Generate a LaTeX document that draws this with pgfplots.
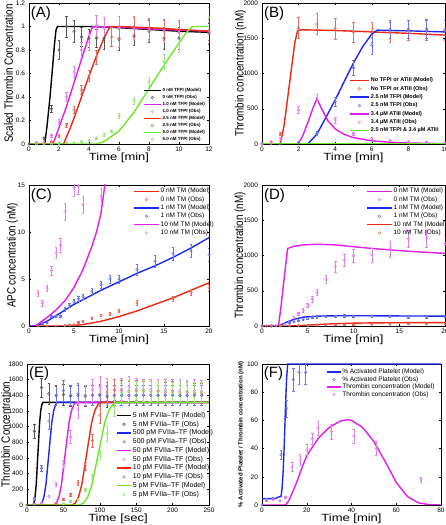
\documentclass[border=0pt]{standalone}
\usepackage{fontspec}
\setmainfont{Liberation Sans}
\usepackage{graphicx}
\usepackage{pgfplots}
\pgfplotsset{compat=1.18}

\definecolor{cBlk}{RGB}{0,0,0}
\definecolor{cMag}{RGB}{225,30,230}
\definecolor{cRed}{RGB}{235,40,20}
\definecolor{cBlu}{RGB}{30,40,240}
\definecolor{cGrn}{RGB}{110,230,40}
\definecolor{oBlk}{RGB}{85,85,85}
\definecolor{oMag}{RGB}{225,130,235}
\definecolor{oRed}{RGB}{225,110,95}
\definecolor{oBlu}{RGB}{105,115,235}
\definecolor{oGrn}{RGB}{150,230,120}

\newcommand{\XL}[1]{\scalebox{1}[0.8]{#1}}
\newcommand{\YL}[1]{\scalebox{0.82}[1]{#1}}

\pgfplotsset{
  panel/.style={scale only axis, clip=true, tick align=inside, major tick length=2.2pt,
    every tick/.style={black, line width=0.4pt},
    axis line style={line width=0.5pt},
    /pgf/number format/assume math mode=true,
    /pgf/number format/1000 sep={},
    scaled ticks=false,
    tick label style={font=\fontsize{6.5}{7}\selectfont},
    xticklabel style={yshift=0.5pt},
    yticklabel style={xshift=-0.5pt},
    xlabel style={font=\fontsize{13}{14}\selectfont, at={(axis description cs:0.5,-0.097)}, anchor=center},
    ylabel style={font=\fontsize{12}{13}\selectfont, anchor=center},
  },
  legimg/.style={legend image code/.code={\draw[mark repeat=2,mark phase=2,##1] plot coordinates {(0pt,0pt) ({0.5*#1},0pt) (#1,0pt)};}},
  model/.style={line width=1.4pt, no markers},
  obs/.style={only marks, mark=o, mark size=1.3pt, mark options={solid, line width=0.5pt},
    error bars/y dir=both, error bars/y explicit,
    error bars/error bar style={line width=0.45pt},
    error bars/error mark options={rotate=90, mark size=1.3pt, line width=0.45pt}},
}

\begin{document}
\begin{tikzpicture}
\path[use as bounding box] (0pt,0pt) rectangle (446pt,525pt);

% ---------------- (A)
\begin{axis}[panel, at={(29pt,381pt)}, anchor=south west, width=180pt, height=141pt,
  xmin=0, xmax=12, ymin=0, ymax=1.2,
  xtick={0,2,4,6,8,10,12}, ytick={0,0.2,0.4,0.6,0.8,1,1.2},
  xlabel={\XL{Time [min]}}, ylabel={\YL{Scaled Thrombin Concentration}},
  ylabel style={at={(axis description cs:-0.113,0.5)}},
  legend style={draw=none, fill=none, inner sep=0pt, at={(axis description cs:0.633,0.404)}, anchor=north west,
    font=\fontsize{4.5}{5}\selectfont\bfseries, nodes={inner sep=1.1pt}, row sep=0pt, cells={anchor=west}},
  legend cell align=left, legimg=17pt,
]
\addplot[model, cBlk] coordinates {(0,0)(1.05,0)(1.2,0.15)(1.4,0.4)(1.55,0.62)(1.7,0.85)(1.8,0.97)(1.9,1.0)(4,1.0)(6,0.99)(8,0.975)(10,0.96)(12,0.95)};
\addlegendentry{0 nM TFPI (Model)}
\addplot[obs, oBlk] coordinates {(0,0) +- (0,0.005) (0.5,0.01) +- (0,0.005) (1,0.05) +- (0,0.01) (1.5,0.30) +- (0,0.03) (2,0.80) +- (0,0.08) (2.5,1.0) +- (0,0.09) (3,0.96) +- (0,0.09) (3.5,0.91) +- (0,0.08) (4,0.90) +- (0,0.08) (4.5,0.90) +- (0,0.08) (5,0.90) +- (0,0.09) (6,0.89) +- (0,0.09) (7,0.92) +- (0,0.08) (8,0.96) +- (0,0.09) (9,0.90) +- (0,0.09) (10,0.90) +- (0,0.09) (12,0.94) +- (0,0.09)};
\addlegendentry{0 nM TFPI (Obs)}
\addplot[model, cMag] coordinates {(0,0)(1.6,0)(2,0.14)(2.5,0.32)(3,0.52)(3.5,0.72)(4,0.92)(4.25,1.0)(6,0.995)(8,0.98)(10,0.97)(12,0.96)};
\addlegendentry{1.0 nM TFPI (Model)}
\addplot[obs, oMag] coordinates {(0.5,0.01) +- (0,0.005) (1,0.01) +- (0,0.005) (1.5,0.07) +- (0,0.01) (2,0.19) +- (0,0.02) (2.5,0.40) +- (0,0.04) (3,0.61) +- (0,0.05) (3.5,0.80) +- (0,0.07) (4,0.87) +- (0,0.07) (4.5,1.01) +- (0,0.09) (5,0.99) +- (0,0.09) (6,1.0) +- (0,0.09) (7,0.98) +- (0,0.09) (8,0.97) +- (0,0.09) (9,0.96) +- (0,0.09) (10,0.95) +- (0,0.09) (12,0.95) +- (0,0.09)};
\addlegendentry{1.0 nM TFPI (Obs)}
\addplot[model, cRed] coordinates {(0,0)(2.3,0)(2.7,0.12)(3,0.22)(3.5,0.40)(4,0.58)(4.5,0.75)(5,0.90)(5.4,1.0)(6,1.0)(8,0.99)(10,0.975)(12,0.96)};
\addlegendentry{2.5 nM TFPI (Model)}
\addplot[obs, oRed] coordinates {(1,0.01) +- (0,0.005) (1.5,0.02) +- (0,0.005) (2,0.07) +- (0,0.01) (2.5,0.16) +- (0,0.02) (3,0.29) +- (0,0.03) (3.5,0.46) +- (0,0.04) (4,0.58) +- (0,0.05) (4.5,0.74) +- (0,0.06) (5.5,0.91) +- (0,0.08) (6,0.90) +- (0,0.08) (7,1.0) +- (0,0.09) (8,0.98) +- (0,0.09) (9,0.97) +- (0,0.09) (10,0.96) +- (0,0.09) (12,0.97) +- (0,0.09)};
\addlegendentry{2.5 nM TFPI (Obs)}
\addplot[model, cGrn] coordinates {(0,0)(4.5,0)(5,0.02)(6,0.11)(7,0.27)(8,0.47)(9,0.67)(10,0.86)(10.5,0.95)(10.9,1.0)(12,1.0)};
\addlegendentry{5.0 nM TFPI (Model)}
\addplot[obs, oGrn] coordinates {(0.5,0) +- (0,0.005) (1,0) +- (0,0.005) (1.5,0) +- (0,0.005) (2,0.005) +- (0,0.005) (2.5,0.01) +- (0,0.005) (3,0.01) +- (0,0.005) (3.5,0.02) +- (0,0.005) (4,0.03) +- (0,0.01) (4.5,0.05) +- (0,0.01) (5,0.08) +- (0,0.01) (5.5,0.11) +- (0,0.01) (6,0.24) +- (0,0.02) (7,0.37) +- (0,0.03) (8,0.53) +- (0,0.04) (9,0.70) +- (0,0.06) (10,0.85) +- (0,0.07) (12,1.08) +- (0,0.08)};
\addlegendentry{5.0 nM TFPI (Obs)}
\node[anchor=north west, inner sep=0pt, font=\fontsize{15}{15}\selectfont] at (rel axis cs:0.01,0.975) {(A)};
\end{axis}

% ---------------- (B)
\begin{axis}[panel, at={(262pt,381pt)}, anchor=south west, width=183pt, height=141pt,
  xmin=0, xmax=10, ymin=0, ymax=2000,
  xtick={0,2,4,6,8,10}, ytick={0,500,1000,1500,2000},
  xlabel={\XL{Time [min]}}, ylabel={\YL{Thrombin concentration (nM)}},
  ylabel style={at={(axis description cs:-0.117,0.5)}},
  legend style={draw=none, fill=none, inner sep=0pt, at={(axis description cs:0.475,0.482)}, anchor=north west,
    font=\fontsize{5.5}{6}\selectfont\bfseries, nodes={inner sep=1.45pt}, row sep=0pt, cells={anchor=west}},
  legend cell align=left, legimg=19pt,
]
\addplot[model, cRed] coordinates {(0,0)(1,0)(1.2,250)(1.4,650)(1.6,1050)(1.8,1450)(1.95,1610)(2.2,1620)(4,1610)(6,1590)(8,1570)(10,1545)};
\addlegendentry{No TFPI or ATIII (Model)}
\addplot[obs, oRed] coordinates {(0,0) +- (0,10) (0.5,30) +- (0,15) (1,140) +- (0,20) (2,1645) +- (0,150) (3,1700) +- (0,150) (4,1640) +- (0,150) (5,1590) +- (0,140) (6,1590) +- (0,140) (7,1590) +- (0,140) (8,1610) +- (0,140) (9,1610) +- (0,140) (10,1610) +- (0,140)};
\addlegendentry{No TFPI or ATIII (Obs)}
\addplot[model, cBlu] coordinates {(0,0)(2.5,0)(3,140)(3.5,380)(4,625)(4.5,890)(5,1150)(5.5,1380)(6,1560)(6.3,1615)(7,1610)(8,1605)(10,1590)};
\addlegendentry{2.5 nM TFPI (Model)}
\addplot[obs, oBlu] coordinates {(0,0) +- (0,5) (1,0) +- (0,5) (2,20) +- (0,10) (3,150) +- (0,30) (4,600) +- (0,60) (5,1080) +- (0,110) (6,1400) +- (0,120) (7,1630) +- (0,130) (8,1630) +- (0,130) (9,1635) +- (0,140) (10,1620) +- (0,140)};
\addlegendentry{2.5 nM TFPI (Obs)}
\addplot[model, cMag] coordinates {(0,0)(1.95,0)(2.2,100)(2.5,300)(2.8,520)(3,640)(3.3,480)(3.6,330)(4,215)(4.5,135)(5,90)(6,45)(7,25)(8,14)(10,5)};
\addlegendentry{3.4 µM ATIII (Model)}
\addplot[obs, oMag] coordinates {(0,0) +- (0,5) (0.5,10) +- (0,5) (1,80) +- (0,20) (2,480) +- (0,50) (3,650) +- (0,50) (4,340) +- (0,40) (5,140) +- (0,20) (6,80) +- (0,10) (7,50) +- (0,10) (8,35) +- (0,10) (9,25) +- (0,10) (10,15) +- (0,10)};
\addlegendentry{3.4 µM ATIII (Obs)}
\addplot[model, cGrn] coordinates {(0,0)(10,0)};
\addlegendentry{2.5 nM TFPI \& 3.4 µM ATIII}
\node[anchor=north west, inner sep=0pt, font=\fontsize{15}{15}\selectfont] at (rel axis cs:0.01,0.975) {(B)};
\end{axis}

% ---------------- (C)
\begin{axis}[panel, at={(29pt,199pt)}, anchor=south west, width=180pt, height=141pt,
  xmin=0, xmax=20, ymin=0, ymax=15,
  xtick={0,5,10,15,20}, ytick={0,5,10,15},
  xlabel={\XL{Time [min]}}, ylabel={\YL{APC concentration (nM)}},
  ylabel style={at={(axis description cs:-0.092,0.5)}},
  legend style={draw=none, fill=none, inner sep=0pt, at={(axis description cs:0.578,0.986)}, anchor=north west,
    font=\fontsize{6.5}{7}\selectfont, nodes={inner sep=1.05pt}, row sep=0pt, cells={anchor=west}},
  legend cell align=left, legimg=25pt,
]
\addplot[model, cRed] coordinates {(0,0)(4,0)(5,0.05)(6,0.15)(8,0.5)(10,1.0)(12,1.6)(14,2.3)(16,3.0)(18,3.8)(20,4.6)};
\addlegendentry{0 nM TM (Model)}
\addplot[obs, oRed] coordinates {(1,0) +- (0,0.03) (2,0) +- (0,0.03) (3,0) +- (0,0.05) (4,0.05) +- (0,0.05) (4.5,0.1) +- (0,0.05) (5,0.15) +- (0,0.05) (5.5,0.4) +- (0,0.1) (6,0.5) +- (0,0.1) (7,0.85) +- (0,0.1) (8,1.1) +- (0,0.1) (9,1.3) +- (0,0.15) (10,1.6) +- (0,0.15) (12,2.45) +- (0,0.25) (16,2.9) +- (0,0.25) (18,3.55) +- (0,0.3) (20,4.1) +- (0,0.35)};
\addlegendentry{0 nM TM (Obs)}
\addplot[model, cBlu] coordinates {(0,0)(0.5,0)(1,0.1)(2,0.5)(3,1.1)(4,1.7)(5,2.3)(6,2.8)(8,3.8)(10,4.7)(12,5.6)(14,6.4)(16,7.3)(18,8.3)(20,9.4)};
\addlegendentry{1 nM TM (Model)}
\addplot[obs, oBlu] coordinates {(1.5,0.3) +- (0,0.1) (2,0.35) +- (0,0.1) (2.5,1.05) +- (0,0.1) (3,1.0) +- (0,0.1) (3.5,1.05) +- (0,0.1) (4,1.8) +- (0,0.2) (4.5,2.2) +- (0,0.2) (5,2.6) +- (0,0.2) (5.5,2.9) +- (0,0.25) (6,3.1) +- (0,0.3) (7,3.7) +- (0,0.3) (8,4.4) +- (0,0.4) (9,5.0) +- (0,0.45) (10,5.0) +- (0,0.45) (12,6.0) +- (0,0.55) (14,6.9) +- (0,0.6) (16,7.7) +- (0,0.7) (18,8.0) +- (0,0.7) (20,7.6) +- (0,0.7)};
\addlegendentry{1 nM TM (Obs)}
\addplot[model, cMag] coordinates {(0,0)(0.7,0)(1,0.2)(2,0.9)(3,1.7)(4,2.7)(5,4.1)(6,6.0)(7,8.5)(7.5,10)(8,12)(8.5,15.5)};
\addlegendentry{10 nM TM (Model)}
\addplot[obs, oMag] coordinates {(1,3.5) +- (0,0.3) (1.5,2.45) +- (0,0.3) (2,4.0) +- (0,0.35) (2.5,5.9) +- (0,0.5) (3,7.8) +- (0,0.6) (3.5,8.6) +- (0,0.7) (4,12.2) +- (0,0.9) (5,14.7) +- (0,0.9) (5.5,14.9) +- (0,0.9) (6,12.9) +- (0,0.9) (8,13.8) +- (0,0.9)};
\addlegendentry{10 nM TM (Obs)}
\node[anchor=north west, inner sep=0pt, font=\fontsize{15}{15}\selectfont] at (rel axis cs:0.01,0.975) {(C)};
\end{axis}

% ---------------- (D)
\begin{axis}[panel, at={(262pt,199pt)}, anchor=south west, width=183pt, height=141pt,
  xmin=0, xmax=20, ymin=0, ymax=2000,
  xtick={0,5,10,15,20}, ytick={0,500,1000,1500,2000},
  xlabel={\XL{Time [min]}}, ylabel={\YL{Thrombin concentration (nM)}},
  ylabel style={at={(axis description cs:-0.12,0.5)}},
  legend style={draw=none, fill=none, inner sep=0pt, at={(axis description cs:0.568,0.986)}, anchor=north west,
    font=\fontsize{6.5}{7}\selectfont, nodes={inner sep=1.05pt}, row sep=0pt, cells={anchor=west}},
  legend cell align=left, legimg=25pt,
]
\addplot[model, cMag] coordinates {(0,0)(1.8,0)(2.1,300)(2.4,650)(2.8,1100)(3.5,1130)(4.5,1150)(6,1160)(8,1150)(10,1125)(12,1100)(14,1080)(16,1060)(18,1045)(20,1030)};
\addlegendentry{0 nM TM (Model)}
\addplot[obs, oMag] coordinates {(0,0) +- (0,5) (0.5,0) +- (0,5) (1,0) +- (0,5) (1.5,5) +- (0,5) (2,10) +- (0,5) (2.5,25) +- (0,10) (3,55) +- (0,15) (3.5,115) +- (0,20) (4,175) +- (0,25) (4.5,220) +- (0,30) (5,295) +- (0,35) (5.5,380) +- (0,40) (6,475) +- (0,45) (7,660) +- (0,60) (8,840) +- (0,80) (9,935) +- (0,90) (10,995) +- (0,90) (12,1010) +- (0,100) (14,1090) +- (0,110) (16,1240) +- (0,120) (18,1240) +- (0,120) (20,1170) +- (0,120)};
\addlegendentry{0 nM TM (Obs)}
\addplot[model, cBlu] coordinates {(0,0)(1.8,0)(2.2,25)(2.8,60)(3.5,95)(4.5,125)(6,140)(8,145)(10,145)(12,145)(14,143)(16,142)(18,141)(20,140)};
\addlegendentry{1 nM TM (Model)}
\addplot[obs, oBlu] coordinates {(0,0) +- (0,5) (1,0) +- (0,5) (2,5) +- (0,5) (3,50) +- (0,10) (3.5,60) +- (0,10) (4,75) +- (0,10) (4.5,90) +- (0,10) (5,110) +- (0,15) (5.5,120) +- (0,15) (6,130) +- (0,15) (7,135) +- (0,15) (8,140) +- (0,15) (9,145) +- (0,15) (10,140) +- (0,15) (12,140) +- (0,15) (14,135) +- (0,15) (16,130) +- (0,15) (18,130) +- (0,15) (20,135) +- (0,15)};
\addlegendentry{1 nM TM (Obs)}
\addplot[model, cRed] coordinates {(0,0)(3,0)(4,5)(5,12)(6,20)(7,27)(8,33)(10,40)(12,44)(14,46)(16,47)(18,47)(20,47)};
\addlegendentry{10 nM TM (Model)}
\addplot[obs, oRed] coordinates {(0,0) +- (0,5) (1,0) +- (0,5) (2,2) +- (0,5) (3,5) +- (0,5) (4,8) +- (0,5) (5,10) +- (0,5) (6,12) +- (0,5) (7,15) +- (0,5) (8,18) +- (0,5) (9,20) +- (0,5) (10,22) +- (0,5) (12,25) +- (0,5) (14,28) +- (0,5) (16,30) +- (0,5) (18,32) +- (0,5) (20,35) +- (0,5)};
\addlegendentry{10 nM TM (Obs)}
\node[anchor=north west, inner sep=0pt, font=\fontsize{15}{15}\selectfont] at (rel axis cs:0.01,0.975) {(D)};
\end{axis}

% ---------------- (E)
\begin{axis}[panel, at={(27pt,20pt)}, anchor=south west, width=182pt, height=141pt,
  xmin=0, xmax=250, ymin=0, ymax=1800,
  xtick={0,50,100,150,200,250}, ytick={0,200,400,600,800,1000,1200,1400,1600,1800},
  xlabel={\XL{Time [sec]}}, ylabel={\YL{Thrombin Concentration}},
  xlabel style={at={(axis description cs:0.5,-0.1)}},
  ylabel style={at={(axis description cs:-0.118,0.5)}},
  legend style={draw=none, fill=none, inner sep=0pt, at={(axis description cs:0.49,0.667)}, anchor=north west,
    font=\fontsize{7}{8}\selectfont, nodes={inner sep=1.1pt}, row sep=0pt, cells={anchor=west}},
  legend cell align=left, legimg=14pt,
]
\addplot[model, cBlk] coordinates {(0,0)(8,0)(9.6,26)(11.1,105)(12.7,262)(14.2,524)(15.8,786)(17.3,1048)(18.9,1205)(20.4,1284)(22,1310)(250,1310)};
\addlegendentry{5 nM FVIIa--TF (Model)}
\addplot[obs, oBlk] coordinates {(0,0) +- (0,10) (10,940) +- (0,90) (20,1500) +- (0,120) (30,1420) +- (0,130) (40,1400) +- (0,130) (50,1410) +- (0,130) (60,1390) +- (0,130) (70,1400) +- (0,130) (80,1390) +- (0,130) (90,1400) +- (0,130) (100,1400) +- (0,130) (110,1380) +- (0,130) (120,1400) +- (0,130) (130,1400) +- (0,130) (140,1400) +- (0,130) (150,1400) +- (0,130) (160,1400) +- (0,130) (170,1400) +- (0,130) (180,1400) +- (0,130) (190,1400) +- (0,130) (200,1400) +- (0,130) (210,1400) +- (0,130) (220,1400) +- (0,130) (230,1400) +- (0,130) (240,1400) +- (0,130)};
\addlegendentry{5 nM FVIIa--TF (Obs)}
\addplot[model, cBlu] coordinates {(0,0)(18,0)(20.7,26)(23.3,105)(26,262)(28.7,524)(31.3,786)(34,1048)(36.7,1205)(39.3,1284)(42,1310)(250,1310)};
\addlegendentry{500 pM FVIIa--TF (Model)}
\addplot[obs, oBlu] coordinates {(10,75) +- (0,20) (20,470) +- (0,40) (30,1070) +- (0,100) (40,1400) +- (0,120) (50,1460) +- (0,130) (60,1400) +- (0,130) (70,1420) +- (0,130) (80,1400) +- (0,130) (90,1400) +- (0,130) (100,1410) +- (0,130) (110,1400) +- (0,130) (120,1400) +- (0,130) (130,1400) +- (0,130) (140,1400) +- (0,130) (150,1400) +- (0,130) (160,1400) +- (0,130) (170,1400) +- (0,130) (180,1400) +- (0,130) (190,1400) +- (0,130) (200,1400) +- (0,130) (210,1400) +- (0,130) (220,1400) +- (0,130) (230,1400) +- (0,130) (240,1400) +- (0,130)};
\addlegendentry{500 pM FVIIa--TF (Obs)}
\addplot[model, cMag] coordinates {(0,0)(37,0)(40.4,26)(43.9,105)(47.3,262)(50.8,524)(54.2,786)(57.7,1048)(61.1,1205)(64.6,1284)(68,1310)(250,1310)};
\addlegendentry{50 pM FVIIa--TF (Model)}
\addplot[obs, oMag] coordinates {(10,10) +- (0,10) (20,30) +- (0,10) (30,110) +- (0,15) (40,260) +- (0,25) (50,520) +- (0,50) (60,870) +- (0,80) (70,1220) +- (0,110) (80,1400) +- (0,130) (90,1470) +- (0,140) (100,1500) +- (0,140) (110,1480) +- (0,140) (120,1470) +- (0,140) (130,1480) +- (0,140) (140,1500) +- (0,140) (150,1480) +- (0,140) (160,1470) +- (0,140) (170,1470) +- (0,140) (180,1460) +- (0,140) (190,1470) +- (0,140) (200,1460) +- (0,140) (210,1460) +- (0,140) (220,1450) +- (0,140) (230,1460) +- (0,140) (240,1450) +- (0,140)};
\addlegendentry{50 pM FVIIa--TF (Obs)}
\addplot[model, cRed] coordinates {(0,0)(62,0)(66.4,26)(70.9,105)(75.3,262)(79.8,524)(84.2,786)(88.7,1048)(93.1,1205)(97.6,1284)(102,1310)(250,1310)};
\addlegendentry{10 pM FVIIa--TF (Model)}
\addplot[obs, oRed] coordinates {(40,20) +- (0,10) (50,75) +- (0,10) (60,130) +- (0,15) (70,280) +- (0,30) (80,500) +- (0,50) (90,820) +- (0,80) (100,1150) +- (0,110) (110,1440) +- (0,130) (120,1470) +- (0,130) (130,1460) +- (0,130) (140,1450) +- (0,130) (150,1460) +- (0,130) (160,1450) +- (0,130) (170,1450) +- (0,130) (180,1450) +- (0,130) (190,1440) +- (0,130) (200,1450) +- (0,130) (210,1440) +- (0,130) (220,1440) +- (0,130) (230,1430) +- (0,130) (240,1430) +- (0,130)};
\addlegendentry{10 pM FVIIa--TF (Obs)}
\addplot[model, cGrn] coordinates {(0,0)(72,0)(77.8,26)(83.6,105)(89.3,262)(95.1,524)(100.9,786)(106.7,1048)(112.4,1205)(118.2,1284)(124,1310)(250,1310)};
\addlegendentry{5 pM FVIIa--TF (Model)}
\addplot[obs, oGrn] coordinates {(50,15) +- (0,10) (60,45) +- (0,10) (70,70) +- (0,10) (80,190) +- (0,20) (90,360) +- (0,35) (100,640) +- (0,60) (110,910) +- (0,90) (120,1250) +- (0,120) (130,1430) +- (0,130) (140,1460) +- (0,130) (150,1450) +- (0,130) (160,1460) +- (0,130) (170,1450) +- (0,130) (180,1450) +- (0,130) (190,1450) +- (0,130) (200,1440) +- (0,130) (210,1440) +- (0,130) (220,1450) +- (0,130) (230,1440) +- (0,130) (240,1440) +- (0,130)};
\addlegendentry{5 pM FVIIa--TF (Obs)}
\node[anchor=north west, inner sep=0pt, font=\fontsize{15}{15}\selectfont] at (rel axis cs:0.01,0.985) {(E)};
\end{axis}

% ---------------- (F)
\begin{axis}[panel, at={(262pt,20pt)}, anchor=south west, width=179pt, height=141pt,
  xmin=0, xmax=80, ymin=0, ymax=100,
  xtick={0,20,40,60,80}, ytick={0,20,40,60,80,100},
  xlabel={\XL{Time [min]}}, ylabel={\% Activated Platelet / Thrombin concentration (nM)},
  xlabel style={at={(axis description cs:0.5,-0.1)}},
  ylabel style={at={(axis description cs:-0.117,0.5)}, font=\fontsize{6}{7}\selectfont\bfseries},
  legend style={draw=none, fill=none, inner sep=0pt, at={(axis description cs:0.358,0.972)}, anchor=north west,
    font=\fontsize{6.5}{7}\selectfont, nodes={inner sep=0.65pt}, row sep=0pt, cells={anchor=west}},
  legend cell align=left, legimg=14pt,
]
\addplot[model, cBlu] coordinates {(0,4.5)(5,4.5)(6,4.6)(7,5.5)(8.5,6)(9,12)(9.5,25)(10,45)(10.5,70)(11,90)(11.5,100)(80,100)};
\addlegendentry{\% Activated Platelet (Model)}
\addplot[obs, oBlu] coordinates {(0,0) +- (0,0.5) (2,3.5) +- (0,1) (5,4.5) +- (0,1) (8.5,35.6) +- (0,3) (11,68.6) +- (0,6) (14,89) +- (0,8) (16.5,94) +- (0,8) (19.5,94) +- (0,8)};
\addlegendentry{\% Activated Platelet (Obs)}
\addplot[model, cMag] coordinates {(0,0)(10.5,0)(12,3)(15,14)(18,27)(20,35)(25,47)(30,55)(35,59.5)(38,60.5)(40,60)(45,55)(50,45)(55,31)(60,16)(65,6)(70,1.5)(75,0.2)(80,0)};
\addlegendentry{Thrombin concentration (Model)}
\addplot[obs, oMag] coordinates {(2,3) +- (0,0.5) (5,4) +- (0,0.5) (8,3) +- (0,0.5) (10.5,5.5) +- (0,1) (13.5,27) +- (0,3) (17,32) +- (0,4) (20,39) +- (0,4) (22.5,47) +- (0,4) (25,54.5) +- (0,5) (31,52) +- (0,5) (41,49) +- (0,5) (51,40) +- (0,5) (71,18) +- (0,2)};
\addlegendentry{Thrombin concentration (Obs)}
\node[anchor=north west, inner sep=0pt, font=\fontsize{15}{15}\selectfont] at (rel axis cs:0.01,0.985) {(F)};
\end{axis}
\end{tikzpicture}
\end{document}
